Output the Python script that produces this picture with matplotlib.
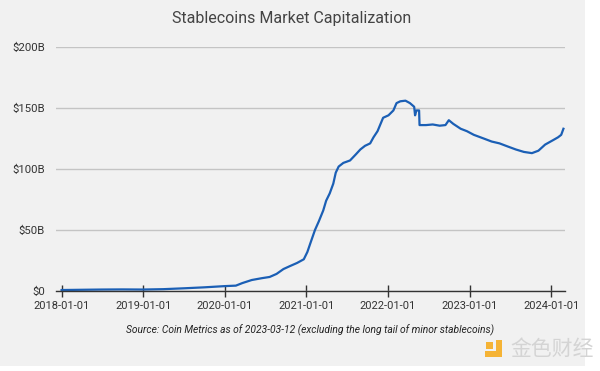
import numpy as np
import pandas as pd
import matplotlib.pyplot as plt
import matplotlib.dates as mdates
from matplotlib.patches import Rectangle

# Stablecoin market cap (billions USD)
dates = ["2018-01-01", "2018-04-01", "2018-07-01", "2018-10-01", "2019-01-01",
         "2019-04-01", "2019-07-01", "2019-10-01", "2020-01-01", "2020-02-20",
         "2020-03-20", "2020-05-01", "2020-06-15", "2020-07-20", "2020-08-20",
         "2020-09-20", "2020-10-20", "2020-11-20", "2020-12-20", "2021-01-05",
         "2021-01-20", "2021-02-08", "2021-02-25", "2021-03-17", "2021-03-30",
         "2021-04-15", "2021-05-01", "2021-05-12", "2021-05-25", "2021-06-15",
         "2021-07-15", "2021-08-10", "2021-08-30", "2021-09-20", "2021-10-13",
         "2021-10-28", "2021-11-15", "2021-12-10", "2022-01-03", "2022-01-25",
         "2022-02-08", "2022-02-25", "2022-03-20", "2022-04-09", "2022-04-28",
         "2022-05-02", "2022-05-08", "2022-05-20", "2022-05-22", "2022-06-20",
         "2022-07-20", "2022-08-20", "2022-09-15", "2022-09-30", "2022-10-20",
         "2022-11-22", "2022-12-20", "2023-01-20", "2023-03-05", "2023-04-10",
         "2023-05-15", "2023-06-20", "2023-07-27", "2023-09-01", "2023-10-07",
         "2023-11-05", "2023-12-05", "2024-01-13", "2024-02-01", "2024-02-15",
         "2024-02-25"]
cap = [0.8, 1.0, 1.2, 1.3, 1.2,
       1.5, 2.2, 3.0, 4.0, 4.4,
       6.5, 9.0, 10.5, 11.5, 14.0,
       18.0, 20.5, 23.0, 26.0, 32.0,
       40.0, 50.0, 57.0, 66.0, 74.0,
       80.0, 88.0, 97.0, 102.0, 105.0,
       107.0, 112.0, 116.0, 119.0, 121.0,
       126.0, 131.0, 142.0, 144.0, 148.0,
       154.0, 155.5, 156.0, 154.0, 151.0,
       144.0, 148.0, 148.0, 136.0, 136.0,
       136.5, 135.5, 136.0, 140.0, 137.0,
       133.0, 131.0, 128.0, 125.0, 122.5,
       121.0, 118.5, 116.0, 114.0, 113.0,
       115.0, 120.0, 124.0, 126.0, 128.0,
       133.0]
yticks = [0, 50, 100, 150, 200]
ytick_labels = ["$0", "$50B", "$100B", "$150B", "$200B"]
xticks = ["2018-01-01", "2019-01-01", "2020-01-01", "2021-01-01",
          "2022-01-01", "2023-01-01", "2024-01-01"]

plt.rcParams['font.family'] = ['Roboto', 'DejaVu Sans']

fig = plt.figure(figsize=(6, 3.71), dpi=100, facecolor='white')
# grey card behind the chart
fig.patches.append(Rectangle((0, 1 - 366 / 371), 585 / 600, 366 / 371,
                             transform=fig.transFigure, facecolor='#f1f1f1',
                             edgecolor='none', zorder=-5))

ax = fig.add_axes([56 / 600, 1 - 291 / 371, 509 / 600, 244 / 371])
ax.set_facecolor('none')
ax.set_zorder(2)

x = pd.to_datetime(dates)
ax.plot(x, cap, color='#1b5fb5', linewidth=1.6, zorder=3)

ax.set_ylim(0, 200)
ax.set_yticks(yticks)
ax.set_yticklabels(ytick_labels)
ax.set_xlim(pd.Timestamp("2017-12-07"), pd.Timestamp("2024-03-03"))
ax.set_xticks(pd.to_datetime(xticks))
ax.xaxis.set_major_formatter(mdates.DateFormatter('%Y-%m-%d'))

ax.grid(axis='y', color='#c4c4c4', linewidth=1.0)
ax.set_axisbelow(True)
for s in ['top', 'right', 'left']:
    ax.spines[s].set_visible(False)
ax.spines['bottom'].set_color('#333333')
ax.spines['bottom'].set_linewidth(1.0)
ax.spines['bottom'].set_zorder(4)

ax.tick_params(axis='y', length=0, pad=8, labelsize=8.2, labelcolor='#333333')
ax.tick_params(axis='x', direction='inout', length=9, width=1.0, color='#333333',
               pad=3, labelsize=8, labelcolor='#333333')

fig.text(292 / 600, 1 - 19 / 371, "Stablecoins Market Capitalization",
         ha='center', va='center', fontsize=11.5, color='#444444')
fig.text(310 / 600, 1 - 330 / 371,
         "Source: Coin Metrics as of 2023-03-12 (excluding the long tail of minor stablecoins)",
         ha='center', va='center', fontsize=7.4, style='italic', color='#222222')

# watermark: small orange logo + text
orange = '#f5b335'
for (x0, y0, w, h) in [(496, 340, 6, 17), (485, 351, 17, 6), (486, 342, 7, 7)]:
    fig.patches.append(Rectangle((x0 / 600, 1 - (y0 + h) / 371), w / 600, h / 371,
                                 transform=fig.transFigure, facecolor=orange,
                                 edgecolor='none', zorder=5))
fig.text(552 / 600, 1 - 349 / 371, "金色财经", ha='center', va='center',
         fontsize=15, color='#d4d4d4', family=['Noto Sans CJK SC', 'DejaVu Sans'],
         zorder=6)

fig.savefig("out.png", dpi=100, facecolor=fig.get_facecolor())
